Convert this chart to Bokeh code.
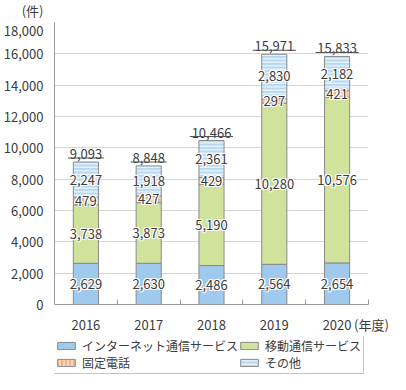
from bokeh.plotting import figure
from bokeh.layouts import column
from bokeh.models import (ColumnDataSource, FixedTicker, NumeralTickFormatter,
                          Legend, LegendItem, Range1d)
from bokeh.core.properties import value
from bokeh.embed import file_html
from bokeh.resources import INLINE
import numpy as np

# ---------------- data ----------------
years = ["2016", "2017", "2018", "2019", "2020"]
internet = [2629, 2630, 2486, 2564, 2654]
mobile = [3738, 3873, 5190, 10280, 10576]
fixed_phone = [479, 427, 429, 297, 421]
other = [2247, 1918, 2361, 2830, 2182]
totals = [9093, 8848, 10466, 15971, 15833]
series_names = ["インターネット通信サービス", "移動通信サービス", "固定電話", "その他"]
y_ticks = [0, 2000, 4000, 6000, 8000, 10000, 12000, 14000, 16000, 18000]
y_unit = "(件)"
x_unit = "\u00a0\u00a0(年度)"

# ---------------- style ----------------
FONT = "Noto Sans CJK JP"
TXT = "#3c3c3c"
FRAME_H = 287
Y_MAX = y_ticks[-1]
px_to_y = Y_MAX / FRAME_H

p = figure(width=390, height=336, output_backend="svg", toolbar_location=None,
           x_range=Range1d(0, len(years)), y_range=Range1d(0, Y_MAX),
           min_border_left=4, min_border_right=22, min_border_top=22,
           min_border_bottom=0)
p.outline_line_color = None
p.background_fill_color = "white"

centers = [i + 0.5 for i in range(len(years))]
bounds = [i + 1 for i in range(len(years))]

# axes
xa = p.xaxis[0]
xa.ticker = FixedTicker(ticks=centers + [len(years)], minor_ticks=bounds)
overrides = {c: y for c, y in zip(centers, years)}
overrides[len(years)] = x_unit
xa.major_label_overrides = overrides
xa.major_tick_line_color = None
xa.minor_tick_line_color = "#9a9a9a"
xa.minor_tick_in = 5
xa.minor_tick_out = 0
xa.axis_line_color = "#9a9a9a"
xa.major_label_text_font = FONT
xa.major_label_text_font_size = "13px"
xa.major_label_text_color = TXT
xa.major_label_standoff = 4

ya = p.yaxis[0]
ya.ticker = FixedTicker(ticks=y_ticks)
ya.formatter = NumeralTickFormatter(format="0,0")
ya.major_label_overrides = {Y_MAX: f"{y_unit}\n{Y_MAX:,}\n\u00a0"}
ya.major_tick_line_color = None
ya.minor_tick_line_color = None
ya.axis_line_color = "#9a9a9a"
ya.major_label_text_font = FONT
ya.major_label_text_font_size = "13px"
ya.major_label_text_color = TXT
ya.major_label_text_line_height = 1.1
ya.major_label_standoff = 5

p.xgrid.visible = False
p.ygrid.grid_line_color = "#d6d6d6"
p.ygrid.grid_line_width = 1.2

# bars
series = [internet, mobile, fixed_phone, other]
fills = ["#9fcaee", "#d0e29b", "#f8d6b8", "#b7d8f5"]
hatch_specs = [
    dict(),
    dict(),
    dict(hatch_pattern="|", hatch_color="#e8955c", hatch_scale=4, hatch_weight=1),
    dict(hatch_pattern="-", hatch_color="white", hatch_scale=3.5, hatch_weight=1),
]
bottom = np.zeros(len(years))
lab_x, lab_y, lab_t = [], [], []
for vals, fc, hs in zip(series, fills, hatch_specs):
    vals = np.array(vals, dtype=float)
    top = bottom + vals
    src = ColumnDataSource(dict(x=centers, bottom=bottom, top=top))
    p.vbar(x="x", bottom="bottom", top="top", width=0.4, source=src,
           fill_color=fc, line_color="#8a8a8a", line_width=1, **hs)
    lab_x += centers
    lab_y += list(bottom + vals / 2)
    lab_t += [f"{int(v):,}" for v in vals]
    bottom = top

lab_src = ColumnDataSource(dict(x=lab_x, y=lab_y, t=lab_t))
for dx in (-1, 0, 1):
    for dy in (-1, 0, 1):
        if dx == 0 and dy == 0:
            continue
        p.text(x="x", y="y", text="t", source=lab_src, x_offset=dx, y_offset=dy,
               text_align="center", text_baseline="middle",
               text_font=value(FONT), text_font_size="13px", text_color="white")
p.text(x="x", y="y", text="t", source=lab_src,
       text_align="center", text_baseline="middle",
       text_font=value(FONT), text_font_size="13px", text_color=TXT)

# totals with underline
tot_txt = [f"{t:,}" for t in totals]
tot_src = ColumnDataSource(dict(
    x=centers, y=totals, t=tot_txt,
    uy=[t + 4 * px_to_y for t in totals],
    uw=[len(s) * 7.2 for s in tot_txt]))
p.text(x="x", y="y", text="t", source=tot_src, y_offset=-8,
       text_align="center", text_baseline="alphabetic",
       text_font=value(FONT), text_font_size="13px", text_color=TXT)
p.rect(x="x", y="uy", width="uw", height=1, width_units="screen",
       height_units="screen", source=tot_src, fill_color="#555555",
       line_color=None)

# ---------------- legend (separate strip below the chart) ----------------
lg = figure(width=390, height=38, output_backend="svg", toolbar_location=None,
            x_range=Range1d(0, 1), y_range=Range1d(0, 1),
            x_axis_type=None, y_axis_type=None, min_border=0)
lg.outline_line_color = None
lg.grid.visible = False
swatches = []
for fc, hs in zip(fills, hatch_specs):
    # swatch renderers only feed the legend; placed outside the visible range
    swatches.append(lg.vbar(x=[-5], top=[1], bottom=[0], width=0.1,
                            fill_color=fc, line_color="#8a8a8a",
                            line_width=1, **hs))
order = [0, 2, 1, 3]   # column-major fill -> rows read as in the reference
legend = Legend(items=[LegendItem(label=series_names[i], renderers=[swatches[i]])
                       for i in order],
                location=(-2, 0), ncols=2,
                label_text_font=FONT, label_text_font_size="12px",
                label_text_color=TXT, glyph_width=22, glyph_height=9,
                label_height=12, label_standoff=5, spacing=0, padding=2,
                margin=0, border_line_color="#8a8a8a", border_line_width=1,
                background_fill_alpha=1)
lg.add_layout(legend)

layout = column(p, lg, spacing=0)
open("out.html", "w").write(file_html(layout, INLINE))
